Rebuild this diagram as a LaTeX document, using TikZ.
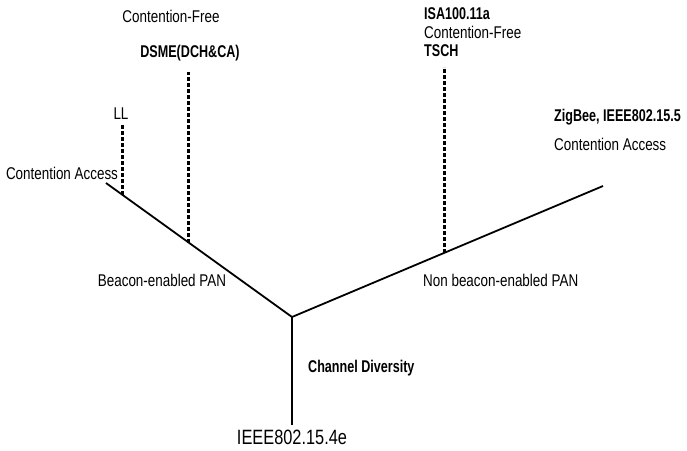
\documentclass[tikz,border=0pt]{standalone}
\usepackage{fontspec}
\setmainfont{Liberation Sans}[FakeStretch=0.79]
\newfontfamily\condbold{Liberation Sans Bold}[FakeStretch=0.74]
\usetikzlibrary{positioning}

\begin{document}
\begin{tikzpicture}[x=1pt, y=-1pt,
  branch/.style={line width=1.8pt},
  slot/.style={line width=2.6pt, dash pattern=on 4pt off 2pt},
  lbl/.style={inner sep=0pt, font=\fontsize{17}{20}\selectfont},
  blbl/.style={lbl, font=\fontsize{17}{20}\selectfont\condbold}]
\useasboundingbox (0,0) rectangle (687,450);

% tree
\coordinate (root) at (292, 317);
\coordinate (base) at (292, 425);
\coordinate (bleft) at (106, 183);
\coordinate (bright) at (603, 186);

\draw[branch] (base) -- (root);
\draw[branch] (root) -- (bleft);
\draw[branch] (root) -- (bright);

% slots hanging on the branches
\coordinate (llfoot) at (122.7, 195);
\coordinate (lltop) at (122.7, 124);
\coordinate (dsmefoot) at (188.7, 243);
\coordinate (dsmetop) at (188.7, 72);
\coordinate (tschfoot) at (444.3, 253);
\coordinate (tschtop) at (444.3, 67);

\draw[slot] (llfoot) -- (lltop);
\draw[slot] (dsmefoot) -- (dsmetop);
\draw[slot] (tschfoot) -- (tschtop);

% labels
\node[lbl] (std) at (292, 437) {\fontsize{20.7}{24}\selectfont IEEE802.15.4e};
\node[blbl, anchor=west] (div) at (308, 368) {Channel Diversity};
\node[lbl] (bpan) at (162, 280) {Beacon-enabled PAN};
\node[lbl, anchor=west] (npan) at (423, 280) {Non beacon-enabled PAN};

\node[lbl] (cal) at (62, 173) {Contention Access};
\node[lbl] (ll) at (121, 114) {LL};
\node[blbl] (dsme) at (190, 53) {DSME(DCH\&CA)};
\node[lbl] (cfl) at (171, 16) {Contention-Free};

\node[blbl, anchor=west] (isa) at (424, 14) {ISA100.11a};
\node[lbl, anchor=west] (cfr) at (424, 32) {Contention-Free};
\node[blbl, anchor=west] (tsch) at (424, 51) {TSCH};

\node[blbl, anchor=west] (zig) at (554, 117) {ZigBee, IEEE802.15.5};
\node[lbl, anchor=west] (car) at (554, 144) {Contention Access};
\end{tikzpicture}
\end{document}
